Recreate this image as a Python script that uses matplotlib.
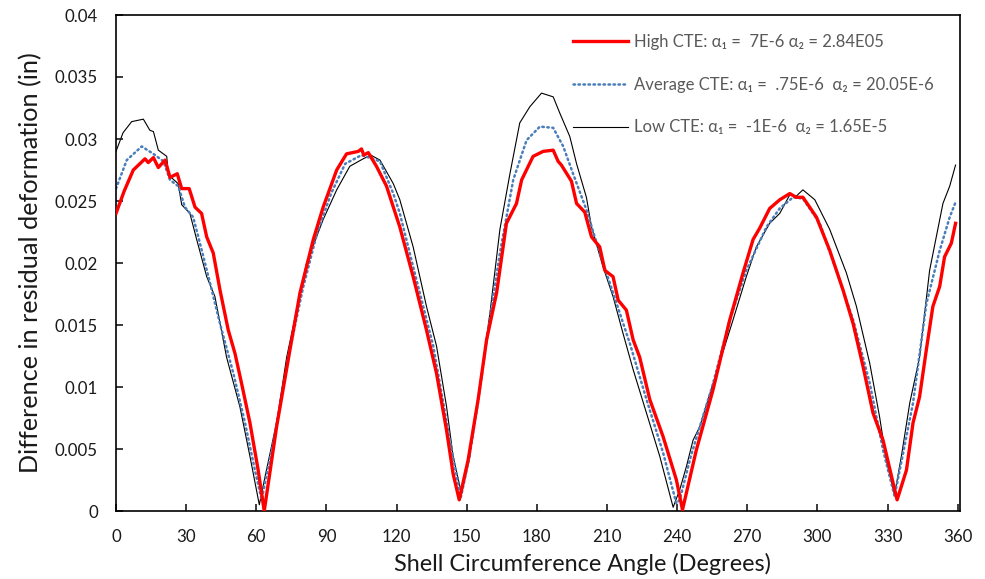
import numpy as np
import matplotlib.pyplot as plt

plt.rcParams['font.family'] = ['Lato', 'DejaVu Sans']

# Low CTE (thin black)
low_x = [0, 3, 6.7, 11.7, 14.5, 16, 18.1, 21.7, 22.4, 26.6,
         28.1, 31.6, 34.5, 38.8, 42.3, 47.3, 53, 57.3, 61.3, 64,
         68.7, 73, 81.5, 88.6, 94.4, 100, 105.7, 109, 112.9, 118.6,
         121.4, 127.1, 132.8, 137.1, 141.4, 144.2, 147.8, 151.3, 154.9, 159.9,
         164.2, 168.5, 172.7, 177, 182, 187, 189.8, 194.1, 197, 201.2,
         203.4, 208.3, 212.6, 216.9, 221.2, 226.9, 232.6, 238.3, 241.1, 244,
         246.8, 249.7, 255.4, 263.9, 269.6, 273.9, 279.6, 283.9, 288.2, 291,
         293.8, 298.9, 305.3, 312.4, 316.7, 322.4, 326.6, 329.5, 333, 336,
         339.5, 343.7, 348, 353.7, 356.6, 359.1]
low_y = [0.0290, 0.0305, 0.0314, 0.0316, 0.0307, 0.0306, 0.0291, 0.0286, 0.0271, 0.0264,
         0.0247, 0.0240, 0.0219, 0.0189, 0.0173, 0.0124, 0.0084, 0.0044, 0.0005, 0.0030,
         0.0071, 0.0124, 0.0200, 0.0235, 0.0259, 0.0278, 0.0284, 0.0287, 0.0283, 0.0264,
         0.0251, 0.0213, 0.0165, 0.0133, 0.0084, 0.0044, 0.0014, 0.0044, 0.0090, 0.0159,
         0.0227, 0.0272, 0.0313, 0.0326, 0.0337, 0.0334, 0.0321, 0.0302, 0.0280, 0.0253,
         0.0229, 0.0197, 0.0173, 0.0143, 0.0114, 0.0079, 0.0044, 0.0003, 0.0017, 0.0036,
         0.0057, 0.0068, 0.0103, 0.0154, 0.0189, 0.0213, 0.0232, 0.0240, 0.0255, 0.0254,
         0.0259, 0.0251, 0.0227, 0.0192, 0.0165, 0.0119, 0.0076, 0.0041, 0.0013, 0.0045,
         0.0087, 0.0124, 0.0194, 0.0248, 0.0262, 0.0279]

# High CTE (thick red)
high_x = [0, 3.5, 7.4, 12.4, 13.8, 16, 18.1, 21, 23.1, 26.2,
          28.1, 31.3, 33.8, 36.6, 38.8, 41.6, 44.5, 48, 50.9, 53.7,
          57.3, 60.8, 63.4, 68.7, 74.4, 78.7, 84.4, 88.6, 94.4, 98.6,
          103.6, 105, 106, 107.9, 111.4, 115.7, 121.4, 127.1, 132.8, 137.1,
          141.4, 144.2, 146.8, 150.6, 154.9, 158.5, 162.8, 167, 171.3, 173.5,
          178.4, 182.7, 187, 189.1, 190.5, 194.8, 197, 200.5, 203.4, 206.9,
          209.1, 212.6, 214.8, 218.3, 221.2, 224, 228.3, 234, 239.7, 242.3,
          248.2, 255.4, 262.5, 268.2, 272.5, 275.3, 279.6, 283.9, 288.2, 290.9,
          293.8, 299.6, 305.3, 311, 315.3, 319.6, 323.8, 328.1, 331.7, 334.1,
          338.1, 340.9, 343.7, 346.6, 349.4, 352.3, 354.4, 357.3, 359.1]
high_y = [0.0240, 0.0258, 0.0275, 0.0284, 0.0281, 0.0285, 0.0277, 0.0283, 0.0269, 0.0272,
          0.0260, 0.0260, 0.0245, 0.0240, 0.0221, 0.0208, 0.0178, 0.0146, 0.0127, 0.0103,
          0.0071, 0.0033, 0.0000, 0.0068, 0.0130, 0.0176, 0.0219, 0.0245, 0.0275, 0.0288,
          0.0290, 0.0292, 0.0287, 0.0289, 0.0278, 0.0262, 0.0229, 0.0189, 0.0146, 0.0111,
          0.0065, 0.0030, 0.0009, 0.0041, 0.0090, 0.0138, 0.0176, 0.0232, 0.0248, 0.0267,
          0.0286, 0.0290, 0.0291, 0.0282, 0.0279, 0.0266, 0.0248, 0.0241, 0.0221, 0.0213,
          0.0194, 0.0189, 0.0170, 0.0162, 0.0138, 0.0124, 0.0090, 0.0060, 0.0025, 0.0001,
          0.0049, 0.0098, 0.0154, 0.0192, 0.0219, 0.0228, 0.0244, 0.0251, 0.0256, 0.0253,
          0.0253, 0.0237, 0.0210, 0.0178, 0.0151, 0.0116, 0.0079, 0.0057, 0.0028, 0.0009,
          0.0033, 0.0071, 0.0092, 0.0130, 0.0165, 0.0181, 0.0205, 0.0216, 0.0232]

# Average CTE (blue dotted)
avg_x = [0, 4.6, 11, 16, 20.3, 23.1, 26.6, 29.5, 33, 35.9,
         40.2, 44.5, 50.2, 55.2, 59.4, 62.3, 68.7, 74, 80, 86,
         92, 98, 105, 112.9, 118.6, 121.4, 127.1, 135.7, 142.8, 147.5,
         151, 155, 159.5, 164.2, 169.9, 175.6, 181.3, 187, 191.3, 195.5,
         201.2, 206.9, 212.6, 219.8, 226.9, 234, 239.7, 241.1, 246, 255.4,
         262.5, 269.6, 278.2, 283.9, 289.6, 293.8, 301, 308.1, 315.3, 322.4,
         328.1, 333, 336.5, 340.9, 346.6, 352.3, 356.6, 359.1]
avg_y = [0.0260, 0.0283, 0.0294, 0.0288, 0.0282, 0.0267, 0.0262, 0.0245, 0.0237, 0.0216,
         0.0184, 0.0151, 0.0111, 0.0071, 0.0033, 0.0009, 0.0070, 0.0127, 0.0180, 0.0224,
         0.0256, 0.0280, 0.0287, 0.0282, 0.0256, 0.0240, 0.0197, 0.0133, 0.0057, 0.0011,
         0.0042, 0.0090, 0.0150, 0.0208, 0.0267, 0.0299, 0.0310, 0.0309, 0.0294, 0.0272,
         0.0243, 0.0208, 0.0176, 0.0135, 0.0090, 0.0047, 0.0006, 0.0009, 0.0045, 0.0103,
         0.0154, 0.0194, 0.0229, 0.0244, 0.0253, 0.0252, 0.0232, 0.0194, 0.0154, 0.0103,
         0.0049, 0.0012, 0.0045, 0.0087, 0.0167, 0.0210, 0.0237, 0.0249]

labels = ['High CTE: α₁ =  7E-6 α₂ = 2.84E05',
          'Average CTE: α₁ =  .75E-6  α₂ = 20.05E-6',
          'Low CTE: α₁ =  -1E-6  α₂ = 1.65E-5']

x_ticks = np.arange(0, 361, 30)
y_ticks = np.arange(0, 0.0401, 0.005)

fig = plt.figure(figsize=(9.85, 5.79), dpi=100)
ax = fig.add_axes([116/985, 1-511/579, 844/985, 496/579])

ax.plot(high_x, high_y, color='#ff0000', lw=2.4, label=labels[0], zorder=3)
ax.plot(avg_x, avg_y, color='#4a7ebb', lw=1.8, ls=(0, (0.6, 1.4)), dash_capstyle='round', label=labels[1], zorder=2)
ax.plot(low_x, low_y, color='black', lw=0.8, label=labels[2], zorder=1)

ax.set_xlim(0, 361)
ax.set_ylim(0, 0.04)
ax.set_xticks(x_ticks)
ax.set_yticks(y_ticks)
ax.set_yticklabels(['{:g}'.format(round(v, 3)) for v in y_ticks])
ax.tick_params(direction='in', length=5, width=1.2, labelsize=12.2, pad=13, colors='#1a1a1a')
for s in ax.spines.values():
    s.set_linewidth(1.2)

ax.set_xlabel('Shell Circumference Angle (Degrees)', fontsize=16.9, color='#1a1a1a')
ax.set_ylabel('Difference in residual deformation (in)', fontsize=18.2, color='#1a1a1a')
ax.xaxis.set_label_coords(0.553, -0.085)
ax.yaxis.set_label_coords(-0.087, 0.5)

leg = ax.legend(loc='upper left', bbox_to_anchor=(573/985, 1-34/579), bbox_transform=fig.transFigure,
                frameon=False, fontsize=12, handlelength=3.3, handletextpad=0.36,
                labelspacing=1.6, borderpad=0, borderaxespad=0)
for t in leg.get_texts():
    t.set_color('#595959')

fig.savefig('out.png', dpi=100)
